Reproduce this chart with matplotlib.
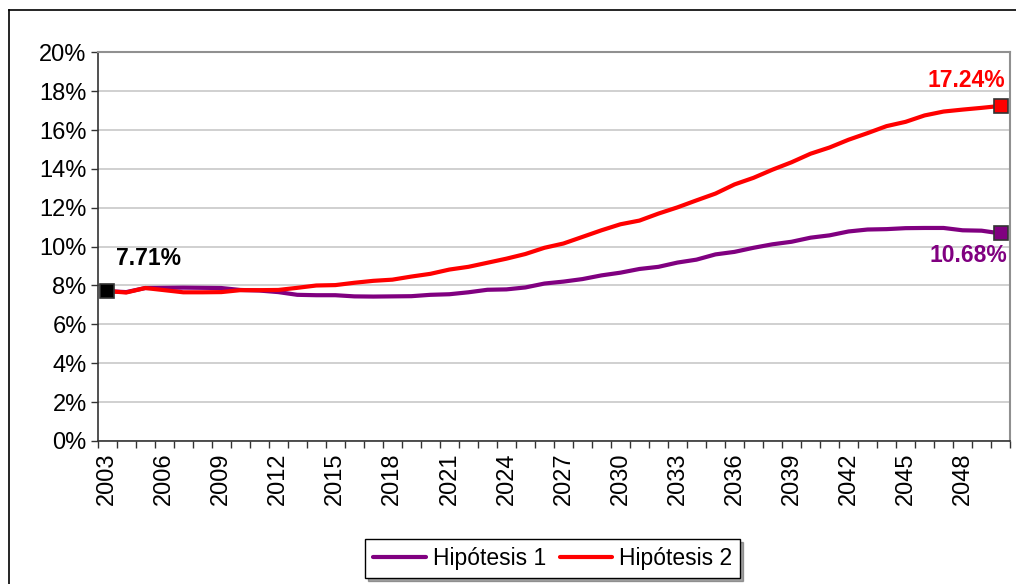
import matplotlib
matplotlib.use("Agg")
import matplotlib.pyplot as plt
import numpy as np
from matplotlib.lines import Line2D

plt.rcParams['font.family'] = ['Liberation Sans', 'DejaVu Sans']

years = list(range(2003, 2051))

# Hipótesis 1 (%)
hip1 = [7.71, 7.66, 7.87, 7.88, 7.89, 7.88, 7.87, 7.77, 7.74, 7.66,
        7.52, 7.50, 7.50, 7.44, 7.43, 7.44, 7.45, 7.52, 7.55, 7.65,
        7.78, 7.80, 7.90, 8.10, 8.20, 8.33, 8.52, 8.66, 8.85, 8.96,
        9.18, 9.33, 9.60, 9.73, 9.94, 10.12, 10.25, 10.46, 10.58, 10.78,
        10.88, 10.90, 10.95, 10.96, 10.96, 10.84, 10.82, 10.68]

# Hipótesis 2 (%)
hip2 = [7.71, 7.64, 7.87, 7.76, 7.65, 7.65, 7.66, 7.76, 7.76, 7.77,
        7.88, 8.00, 8.02, 8.14, 8.24, 8.30, 8.46, 8.60, 8.82, 8.96,
        9.17, 9.38, 9.62, 9.94, 10.16, 10.50, 10.84, 11.15, 11.34, 11.70,
        12.02, 12.38, 12.73, 13.20, 13.54, 13.96, 14.34, 14.78, 15.10, 15.50,
        15.84, 16.20, 16.42, 16.75, 16.95, 17.05, 17.14, 17.24]

purple = '#800080'
red = '#ff0000'

fig = plt.figure(figsize=(10.16, 5.84), dpi=100)
ax = fig.add_axes([0.0962, 0.2449, 0.898, 0.6656])

x = np.arange(len(years))
ax.plot(x, hip1, color=purple, lw=3, label='Hipótesis 1', solid_capstyle='round', zorder=3)
ax.plot(x, hip2, color=red, lw=3, label='Hipótesis 2', solid_capstyle='round', zorder=3)

# end point markers
ax.plot(x[0], hip1[0], 's', ms=10, mfc='black', mec='#333333', mew=1.2, zorder=4)
ax.plot(x[-1], hip2[-1], 's', ms=10, mfc=red, mec='#333333', mew=1.2, zorder=4)
ax.plot(x[-1], hip1[-1], 's', ms=10, mfc=purple, mec='#333333', mew=1.2, zorder=4)

lbl = dict(fontsize=16.5, fontweight='bold', va='center', textcoords='offset pixels')
ax.annotate(f'{hip1[0]:.2f}%', (x[0], hip1[0]), xytext=(9, 33), ha='left', color='black', **lbl)
ax.annotate(f'{hip2[-1]:.2f}%', (x[-1], hip2[-1]), xytext=(-34, 25), ha='center', color=red, **lbl)
ax.annotate(f'{hip1[-1]:.2f}%', (x[-1], hip1[-1]), xytext=(-32, -22), ha='center', color=purple, **lbl)

ax.set_xlim(-0.5, len(years) - 0.5)
ax.set_ylim(0, 20)

ax.set_yticks(np.arange(0, 21, 2))
ax.set_yticklabels([f'{v}%' for v in range(0, 21, 2)])
ax.yaxis.grid(True, color='#c8c8c8', lw=1.2)
ax.set_axisbelow(True)

ax.set_xticks(x[::3])
ax.set_xticklabels([str(y) for y in years[::3]], rotation=90)
ax.set_xticks(np.arange(-0.5, len(years), 1), minor=True)
ax.tick_params(axis='x', which='major', length=0, pad=8, labelsize=17)
ax.tick_params(axis='x', which='minor', length=5, width=1, color='#333333', direction='out')
ax.tick_params(axis='y', length=5, width=1, color='#333333', direction='out', labelsize=17, pad=3)

for side in ['left', 'bottom']:
    ax.spines[side].set_color('#333333')
    ax.spines[side].set_linewidth(1.2)
for side in ['top', 'right']:
    ax.spines[side].set_color('#909090')
    ax.spines[side].set_linewidth(1.5)

leg = ax.legend(loc='center', bbox_to_anchor=(0.544, 0.043), bbox_transform=fig.transFigure,
                ncol=2, frameon=True, fancybox=False, shadow=True, fontsize=16.5,
                handlelength=2.3, columnspacing=0.6, handletextpad=0.3, borderpad=0.35)
leg.get_frame().set_edgecolor('black')
leg.get_frame().set_linewidth(1)

# outer chart frame
fig.add_artist(Line2D([9 / 1016, 9 / 1016], [0, 1 - 10 / 584], transform=fig.transFigure, color='black', lw=1.2))
fig.add_artist(Line2D([9 / 1016, 1], [1 - 10 / 584, 1 - 10 / 584], transform=fig.transFigure, color='black', lw=1.2))

fig.savefig('out.png', dpi=100)
